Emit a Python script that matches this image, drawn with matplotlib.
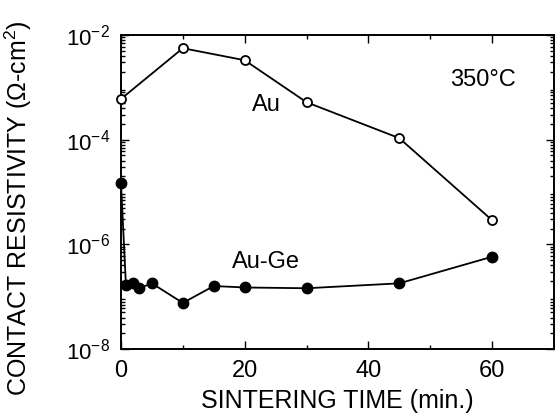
import numpy as np
import matplotlib
matplotlib.use("Agg")
import matplotlib.pyplot as plt
from matplotlib.ticker import LogLocator, MultipleLocator, NullFormatter

plt.rcParams['font.family'] = ['Liberation Sans', 'DejaVu Sans']
plt.rcParams['mathtext.fontset'] = 'custom'
plt.rcParams['mathtext.rm'] = 'Liberation Sans'
plt.rcParams['mathtext.it'] = 'Liberation Sans'

# Au contact (open circles)
au_time = [0, 10, 20, 30, 45, 60]
au_rho = [6.0e-4, 5.6e-3, 3.3e-3, 5.2e-4, 1.07e-4, 2.9e-6]

# Au-Ge contact (filled circles)
auge_time = [0, 0.8, 1.9, 2.9, 5, 10, 15, 20, 30, 45, 60]
auge_rho = [1.48e-5, 1.65e-7, 1.8e-7, 1.45e-7, 1.8e-7, 7.6e-8, 1.6e-7, 1.5e-7, 1.45e-7, 1.8e-7, 5.8e-7]

yticks = [1e-8, 1e-6, 1e-4, 1e-2]
ytick_labels = [r'$10^{-8}$', r'$10^{-6}$', r'$10^{-4}$', r'$10^{-2}$']
xticks = [0, 20, 40, 60]

fig = plt.figure(figsize=(5.55, 4.17), dpi=100)
ax = fig.add_axes([0.218, 0.163, 0.78, 0.753])

ax.plot(au_time, au_rho, '-o', color='black', lw=1.3, ms=6.5,
        mfc='white', mec='black', mew=1.3, clip_on=False, zorder=3)
ax.plot(auge_time, auge_rho, '-o', color='black', lw=1.3, ms=7.5,
        mfc='black', mec='black', clip_on=False, zorder=3)

ax.set_yscale('log')
ax.set_xlim(0, 70)
ax.set_ylim(1e-8, 1e-2)

ax.set_xticks(xticks)
ax.xaxis.set_minor_locator(MultipleLocator(10))
ax.set_yticks(yticks)
ax.set_yticklabels(ytick_labels)
ax.yaxis.set_minor_locator(LogLocator(base=10, subs=np.arange(2, 10), numticks=20))
ax.yaxis.set_minor_formatter(NullFormatter())

ax.tick_params(which='both', direction='in', top=True, right=True, width=1)
ax.tick_params(which='major', length=6, labelsize=17, pad=8)
ax.tick_params(which='minor', length=3)
ax.tick_params(axis='y', which='major', labelsize=16, pad=8)
for s in ax.spines.values():
    s.set_linewidth(1.4)

ax.set_xlabel('SINTERING TIME (min.)', fontsize=18, labelpad=5)
ax.set_ylabel('CONTACT RESISTIVITY ($\\Omega$-cm$^2$)', fontsize=18)
ax.yaxis.set_label_coords(-0.2, 0.45)

ax.text(23.5, 4.6e-4, 'Au', fontsize=17, ha='center', va='center')
ax.text(23.5, 4.6e-7, 'Au-Ge', fontsize=17, ha='center', va='center')
ax.text(58.5, 1.37e-3, '350°C', fontsize=17, ha='center', va='center')

fig.savefig('out.png', dpi=100)
